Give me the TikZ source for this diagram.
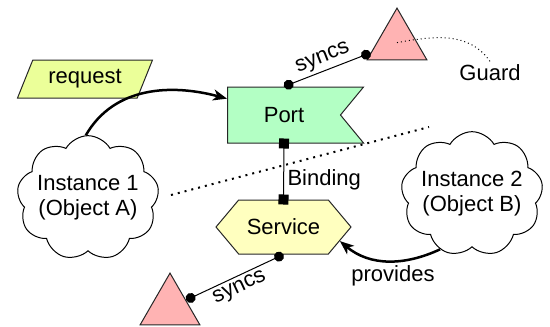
\documentclass[tikz,border=0pt]{standalone}
\usepackage{fontspec}
\setmainfont{Liberation Sans}
\usetikzlibrary{shapes.symbols,shapes.geometric,arrows.meta}

\definecolor{reqfill}{HTML}{EBFF99}
\definecolor{portfill}{HTML}{B3FFC4}
\definecolor{servfill}{HTML}{FFFFBF}
\definecolor{guardfill}{HTML}{FFB3B3}

\tikzset{
  shp/.style={draw=black!85, line width=1pt},
  guardtri/.style={shp, regular polygon, regular polygon sides=3, minimum size=69pt, inner sep=0pt, fill=guardfill},
  inst/.style={draw, cloud, cloud puffs=9, cloud puff arc=120, line width=1pt, minimum width=142pt, minimum height=124pt, align=center, inner sep=-12pt},
  sync/.style={line width=1pt, {Circle[length=10pt]}-{Circle[length=10pt]}},
  flow/.style={line width=2.5pt, -{Stealth[length=14pt,width=11pt,inset=4pt]}},
}

\begin{document}
\begin{tikzpicture}[x=1pt,y=-1pt,font=\fontsize{22}{25}\selectfont]
  \useasboundingbox (0,0) rectangle (550,327);

  % shapes
  \node[shp, trapezium, trapezium left angle=59, trapezium right angle=121, trapezium stretches body,
        minimum width=135pt, minimum height=38pt, fill=reqfill] (request) at (85,79) {request};
  \node[shp, signal, signal from=east, signal to=nowhere, signal pointer angle=101,
        minimum width=136pt, minimum height=56pt, fill=portfill] (port) at (284,115) {Port};
  \node[shp, signal, signal to=west and east, signal pointer angle=100,
        minimum width=135pt, minimum height=54pt, fill=servfill] (service) at (283.5,227) {Service};
  \node[guardtri] (guard1) at (397,42.6) {};
  \node[guardtri] (guard2) at (170,307.6) {};
  \node (guard) at (490,73) {Guard};
  \node[inst] (inst1) at (88,198) {Instance 1\\(Object A)};
  \node[inst] (inst2) at (472,194) {Instance 2\\(Object B)};

  % connectors
  \draw[sync] (port.north) -- (guard1) node[midway, above, sloped] {syncs};
  \draw[sync] (service.south) -- (guard2) node[midway, below, sloped] {syncs};
  \draw[line width=1pt, {Square[length=10pt]}-{Square[length=10pt]}, shorten <=-5pt, shorten >=-5pt]
    (port.south) -- (service.north) node[pos=0.65, right] {Binding};
  \draw[flow] (inst1.92) to[out=60,in=165] (port.164);
  \draw[flow] (inst2.240) to[out=205,in=-40] node[pos=0.45, below=0pt] {provides} (service.-14);
  \draw[line width=1pt, dash pattern=on 1pt off 3pt] (guard1.center) to[out=10,in=125] (guard.north);

  \coordinate (dotA) at (171,195);
  \coordinate (dotB) at (429,127);
  \draw[line width=2pt, dash pattern=on 2pt off 5pt] (dotA) -- (dotB);
\end{tikzpicture}
\end{document}
